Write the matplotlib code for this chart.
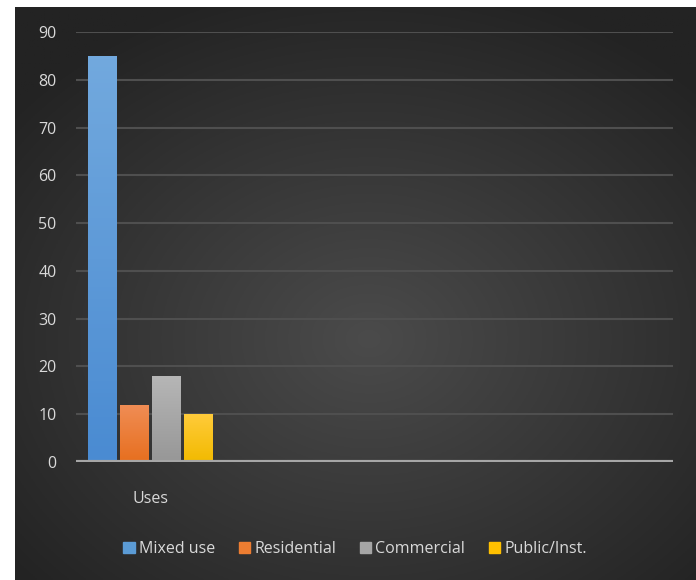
import numpy as np
import matplotlib.pyplot as plt
from matplotlib.colors import LinearSegmentedColormap, to_rgb

# Data
categories = ["Mixed use", "Residential", "Commercial", "Public/Inst."]
values = [85, 12, 18, 10]
group_label = "Uses"

# Excel-like colours (top, bottom of gradient)
bar_colors = [("#72a9de", "#4a8bd2"),
              ("#f08d55", "#e76f1f"),
              ("#b6b6b6", "#979797"),
              ("#ffcb3a", "#f2ba00")]
legend_colors = ["#5b9bd5", "#ed7d31", "#a5a5a5", "#ffc000"]

W, H = 696, 580
fig = plt.figure(figsize=(W / 100, H / 100), dpi=100)
fig.patch.set_facecolor("white")

# dark radial-gradient chart background
bg = fig.add_axes([15 / W, 0, 1 - 15 / W, 1 - 7 / H])
bg.set_axis_off()
yy, xx = np.mgrid[0:1:300j, 0:1:300j]
r = np.sqrt(((xx - 0.52) / 0.8) ** 2 + ((yy - 0.58) / 0.75) ** 2)
r = np.clip(r / 0.85, 0, 1)
c_in, c_out = np.array(to_rgb("#4b4b4b")), np.array(to_rgb("#232323"))
img = c_in[None, None, :] * (1 - r[..., None]) + c_out[None, None, :] * r[..., None]
bg.imshow(img, extent=[0, 1, 0, 1], aspect="auto", origin="upper")
bg.set_xlim(0, 1)
bg.set_ylim(0, 1)

plt.rcParams["font.family"] = ["Open Sans", "DejaVu Sans"]

ax = fig.add_axes([76 / W, 1 - 462 / H, (673 - 76) / W, (462 - 32) / H])
ax.patch.set_alpha(0)

x = np.arange(len(values))
width = 0.875
bars = ax.bar(x, values, width=width, color=legend_colors, zorder=3)

# gradient fill inside each bar
for b, (top, bot) in zip(bars, bar_colors):
    cmap = LinearSegmentedColormap.from_list("g", [bot, top])
    grad = np.linspace(0, 1, 100).reshape(-1, 1)
    x0, y0 = b.get_x(), b.get_y()
    im = ax.imshow(grad, cmap=cmap, origin="lower", aspect="auto",
                   extent=[x0, x0 + b.get_width(), y0, y0 + b.get_height()], zorder=4)
    im.set_clip_path(b)

ax.set_xlim(-0.8125, 17.84)
ax.set_ylim(0, 90)
ax.set_yticks(np.arange(0, 91, 10))
ax.set_xticks([1.5])
ax.set_xticklabels([group_label])
ax.grid(axis="y", color="#4f4f4f", linewidth=1.5, zorder=1)
ax.axhline(0, color="#a6a6a6", linewidth=3, zorder=5)
for s in ax.spines.values():
    s.set_visible(False)
ax.tick_params(axis="y", length=0, pad=14, labelsize=11.5, labelcolor="#d9d9d9")
ax.tick_params(axis="x", length=0, pad=21, labelsize=11.5, labelcolor="#d9d9d9")

handles = [plt.Rectangle((0, 0), 1, 1, color=c) for c in legend_colors]
fig.legend(handles, categories, loc="center", bbox_to_anchor=(355 / W, 1 - 549 / H),
           ncol=4, frameon=False, fontsize=11.5, labelcolor="#d9d9d9",
           handlelength=0.7, handleheight=0.7, handletextpad=0.25, columnspacing=1.5)

fig.savefig("out.png", dpi=100, facecolor=fig.get_facecolor())
